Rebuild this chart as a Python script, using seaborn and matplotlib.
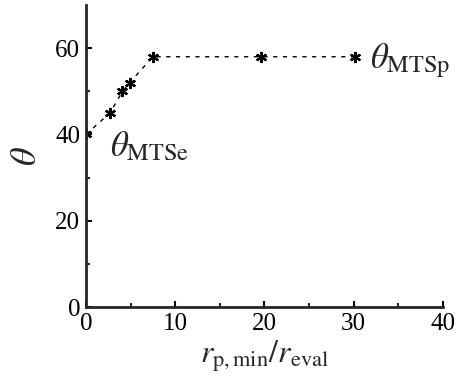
import seaborn as sns
import matplotlib.pyplot as plt
import pandas as pd

# data
ratio = [0.0, 2.7, 4.1, 4.9, 7.5, 19.6, 30.2]
theta = [40, 45, 50, 52, 58, 58, 58]

sns.set_style("ticks")
plt.rcParams['font.family'] = ['Liberation Serif', 'DejaVu Serif']
plt.rcParams['mathtext.fontset'] = 'stix'

df = pd.DataFrame({'ratio': ratio, 'theta': theta})

fig = plt.figure(figsize=(4.57, 3.81), dpi=100)
ax = fig.add_axes([0.188, 0.194, 0.781, 0.793])

sns.lineplot(data=df, x='ratio', y='theta', ax=ax, color='black',
             linestyle=(0, (3, 4)), linewidth=1.0, marker=(6, 2, 0), markersize=8,
             markeredgewidth=1.6, markeredgecolor='black', sort=False)

ax.set_xlim(0, 40)
ax.set_ylim(0, 70)
ax.set_xticks([0, 10, 20, 30, 40])
ax.set_xticks([5, 15, 25, 35], minor=True)
ax.set_yticks([0, 20, 40, 60])
ax.set_yticks([10, 30, 50], minor=True)
ax.tick_params(direction='in', labelsize=18, length=4, width=1.5, colors='black')
ax.tick_params(axis='x', pad=4)
ax.tick_params(axis='y', pad=4)
ax.tick_params(which='minor', direction='in', length=3, width=1.5)
for s in ['left', 'bottom']:
    ax.spines[s].set_linewidth(2)
sns.despine(ax=ax)

ax.set_xlabel(r'$r_{\mathrm{p,min}}/r_{\mathrm{eval}}$', fontsize=23, labelpad=3)
ax.set_ylabel(r'$\theta$', fontsize=26, labelpad=8)

ax.text(2.7, 41, r'$\theta_{\mathrm{MTSe}}$', fontsize=25, va='top', ha='left')
ax.text(31.8, 57, r'$\theta_{\mathrm{MTSp}}$', fontsize=25, va='center', ha='left')

fig.savefig('out.png', dpi=100)
